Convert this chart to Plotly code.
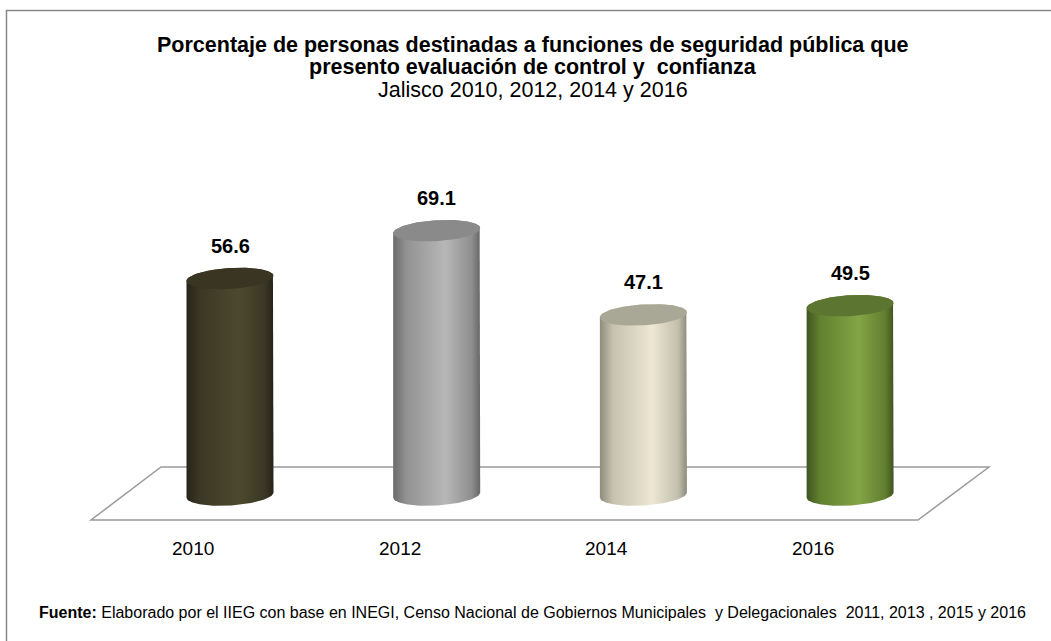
import numpy as np
import plotly.graph_objects as go

# ---- data ----
years = ["2010", "2012", "2014", "2016"]
values = [56.6, 69.1, 47.1, 49.5]
labels = ["56.6", "69.1", "47.1", "49.5"]

# ---- styles ----
body_scales = [
    [[0, "#26241a"], [0.15, "#3a3724"], [0.6, "#4d492f"], [0.9, "#3a3724"], [1, "#25231a"]],
    [[0, "#6a6a6a"], [0.15, "#929292"], [0.6, "#b7b7b7"], [0.9, "#8f8f8f"], [1, "#666666"]],
    [[0, "#8e8c7c"], [0.15, "#c6c2b0"], [0.6, "#ede7d3"], [0.9, "#c2bfad"], [1, "#8c8a7a"]],
    [[0, "#3f5520"], [0.15, "#62802f"], [0.6, "#84a446"], [0.9, "#627f30"], [1, "#3f551f"]],
]
cap_colors = ["#393522", "#8a8a8a", "#a9a795", "#5c7632"]

W, H = 1051, 641
PX_PER_X = 206.7
X0_PX = 230.0
PX_PER_Y = 3.825
Y0_PX = 495.0

x_range = [-X0_PX / PX_PER_X, (W - X0_PX) / PX_PER_X]
y_range = [-(H - Y0_PX) / PX_PER_Y, Y0_PX / PX_PER_Y]

A = 43.5 / PX_PER_X      # half width of cylinder (x units)
B = 10.5 / PX_PER_Y      # half height of ellipse (y units)
S = 2.5 / PX_PER_Y       # tilt of ellipse

FONT = "Liberation Sans, Arial"


def ell(cx, cy, t):
    return cx + A * np.cos(t), cy + B * np.sin(t) + S * np.cos(t)


fig = go.Figure()

for i, v in enumerate(values):
    tb = np.linspace(np.pi, 2 * np.pi, 60)
    tt = np.linspace(0, np.pi, 60)
    bx, by = ell(i, 0, tb)
    tx, ty = ell(i, v, tt)
    xs = np.concatenate([bx, tx, bx[:1]])
    ys = np.concatenate([by, ty, by[:1]])
    fig.add_trace(go.Scatter(
        x=xs, y=ys, mode="lines", fill="toself",
        fillgradient=dict(type="horizontal", colorscale=body_scales[i]),
        line=dict(width=0), hoverinfo="skip", showlegend=False))
    tc = np.linspace(0, 2 * np.pi, 120)
    cx_, cy_ = ell(i, v, tc)
    fig.add_trace(go.Scatter(
        x=cx_, y=cy_, mode="lines", fill="toself", fillcolor=cap_colors[i],
        line=dict(width=0), hoverinfo="skip", showlegend=False))
    fig.add_annotation(x=i, y=v, text="<b>%s</b>" % labels[i], showarrow=False,
                       yshift=33, yanchor="middle",
                       font=dict(family=FONT, size=20, color="#000000"))
    fig.add_annotation(x=i, y=0, text=years[i], showarrow=False, xshift=-37,
                       yshift=-53, yanchor="middle",
                       font=dict(family=FONT, size=19, color="#000000"))


def px(x):
    return x / W


def py(y):
    return 1 - y / H


# floor
floor = "M %f,%f L %f,%f L %f,%f L %f,%f Z" % (
    px(161), py(467), px(989), py(467), px(918), py(520), px(91), py(520))
fig.add_shape(type="path", path=floor, xref="paper", yref="paper",
              line=dict(color="#9a9a9a", width=1.5), layer="below")

# border
fig.add_shape(type="rect", xref="paper", yref="paper",
              x0=px(6.5), y0=-0.05, x1=1.05, y1=py(10.5),
              line=dict(color="#888888", width=1.5))

title_font = dict(family=FONT, size=21.5, color="#000000")
fig.add_annotation(xref="paper", yref="paper", x=px(533), y=py(45),
                   xanchor="center", yanchor="middle",
                   text="<b>Porcentaje de personas destinadas a funciones de seguridad pública que</b>",
                   showarrow=False, font=title_font)
fig.add_annotation(xref="paper", yref="paper", x=px(533), y=py(67),
                   xanchor="center", yanchor="middle",
                   text="<b>presento evaluación de control y  confianza</b>",
                   showarrow=False, font=title_font)
fig.add_annotation(xref="paper", yref="paper", x=px(533), y=py(90),
                   xanchor="center", yanchor="middle",
                   text="Jalisco 2010, 2012, 2014 y 2016",
                   showarrow=False, font=title_font)
fig.add_annotation(xref="paper", yref="paper", x=px(37), y=py(612),
                   xanchor="left", yanchor="middle",
                   text="<b>Fuente:</b> Elaborado por el IIEG con base en INEGI, Censo Nacional de Gobiernos Municipales  y Delegacionales  2011, 2013 , 2015 y 2016",
                   showarrow=False, font=dict(family=FONT, size=16, color="#000000"))

fig.update_layout(
    width=W, height=H,
    margin=dict(l=0, r=0, t=0, b=0),
    paper_bgcolor="#ffffff", plot_bgcolor="rgba(0,0,0,0)",
    xaxis=dict(range=x_range, visible=False, fixedrange=True),
    yaxis=dict(range=y_range, visible=False, fixedrange=True),
    showlegend=False,
)

fig.write_html("out.html", config={"displayModeBar": False},
               post_script="document.body.style.margin='0px';document.body.style.overflow='hidden';")
